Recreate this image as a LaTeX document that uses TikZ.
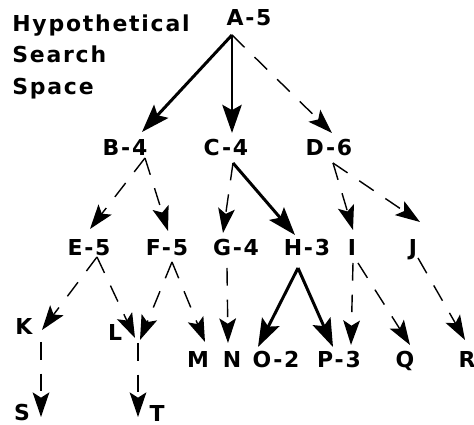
\documentclass[tikz,border=0pt]{standalone}
\usepackage{fontspec}
\newfontfamily\searchfont{DejaVu Sans}[LetterSpace=8]
\usetikzlibrary{arrows.meta}

\begin{document}
\begin{tikzpicture}[
    x=0.02cm, y=-0.02cm,
    state/.style={inner sep=0pt, text height=9.1pt, text depth=0pt, font=\searchfont\bfseries\fontsize{12.5}{14}\selectfont},
    heading/.style={inner sep=0pt, align=left, font=\searchfont\bfseries\fontsize{12.5}{18}\selectfont},
    chosen/.style={-{Stealth[length=16pt, width=11pt, inset=3pt]}, line width=1.7pt},
    other/.style={-{Stealth[length=14pt, width=9.5pt, inset=3pt]}, line width=0.8pt, dash pattern=on 10pt off 8pt}
]
\useasboundingbox (0,0) rectangle (474,425);

% Title
\node[heading, anchor=north west] (title) at (12,14) {Hypothetical\\Search\\Space};

% ==================== Nodes ====================
\node[state] (A) at (249,18) {A-5};

\node[state] (B) at (125,148) {B-4};
\node[state] (C) at (226,148) {C-4};
\node[state] (D) at (329,148) {D-6};

\node[state] (E) at (89,248) {E-5};
\node[state] (F) at (167,248) {F-5};
\node[state] (G) at (236,248) {G-4};
\node[state] (H) at (307,248) {H-3};
\node[state] (I) at (352,248) {I};
\node[state] (J) at (413,248) {J};

\node[state] (K) at (24,327) {K};
\node[state] (L) at (115,333) {L};
\node[state] (M) at (198,360) {M};
\node[state] (N) at (232,360) {N};
\node[state] (O) at (276,360) {O-2};
\node[state] (P) at (339,360) {P-3};
\node[state] (Q) at (405,360) {Q};
\node[state] (R) at (467,360) {R};

\node[state] (S) at (22,413) {S};
\node[state] (T) at (157,414) {T};

% ==================== Connectors ====================
% from A
\draw[chosen] ([shift={(-17,17)}]A.center) -- ([shift={(17,-16)}]B.center);
\draw[chosen] ([shift={(-17,17)}]A.center) -- ([shift={(6,-15)}]C.center);
\draw[other] ([shift={(-17,17)}]A.center) -- ([shift={(3,-15)}]D.center);

% from B, C, D
\draw[other] ([shift={(20,10)}]B.center) -- ([shift={(1,-19)}]E.center);
\draw[other] ([shift={(20,10)}]B.center) -- ([shift={(1,-17)}]F.center);
\draw[other] ([shift={(7,15)}]C.center) -- ([shift={(-13,-15)}]G.center);
\draw[chosen] ([shift={(7,15)}]C.center) -- ([shift={(-12,-13)}]H.center);
\draw[other] ([shift={(4,15)}]D.center) -- ([shift={(1,-18)}]I.center);
\draw[other] ([shift={(4,15)}]D.center) -- ([shift={(7,-26)}]J.center);

% from E .. J
\draw[other] ([shift={(8,9)}]E.center) -- ([shift={(18,3)}]K.center);
\draw[other] ([shift={(8,9)}]E.center) -- ([shift={(20,5)}]L.center);
\draw[other] ([shift={(5,14)}]F.center) -- ([shift={(25,7)}]L.center);
\draw[other] ([shift={(5,14)}]F.center) -- ([shift={(7,-18)}]M.center);
\draw[other] ([shift={(-9,20)}]G.center) -- ([shift={(-4,-17)}]N.center);
\draw[chosen] ([shift={(-9,20)}]H.center) -- ([shift={(-18,-13)}]O.center);
\draw[chosen] ([shift={(-9,20)}]H.center) -- ([shift={(-6,-13)}]P.center);
\draw[other] ([shift={(1,15)}]I.center) -- ([shift={(12,-15)}]P.center);
\draw[other] ([shift={(6,15)}]I.center) -- ([shift={(5,-15)}]Q.center);
\draw[other] ([shift={(5,10)}]J.center) -- ([shift={(-2,-20)}]R.center);

% from K, L
\draw[other] ([shift={(17,15)}]K.center) -- ([shift={(19,4)}]S.center);
\draw[other] ([shift={(23,10)}]L.center) -- ([shift={(-19,3)}]T.center);

\end{tikzpicture}
\end{document}
